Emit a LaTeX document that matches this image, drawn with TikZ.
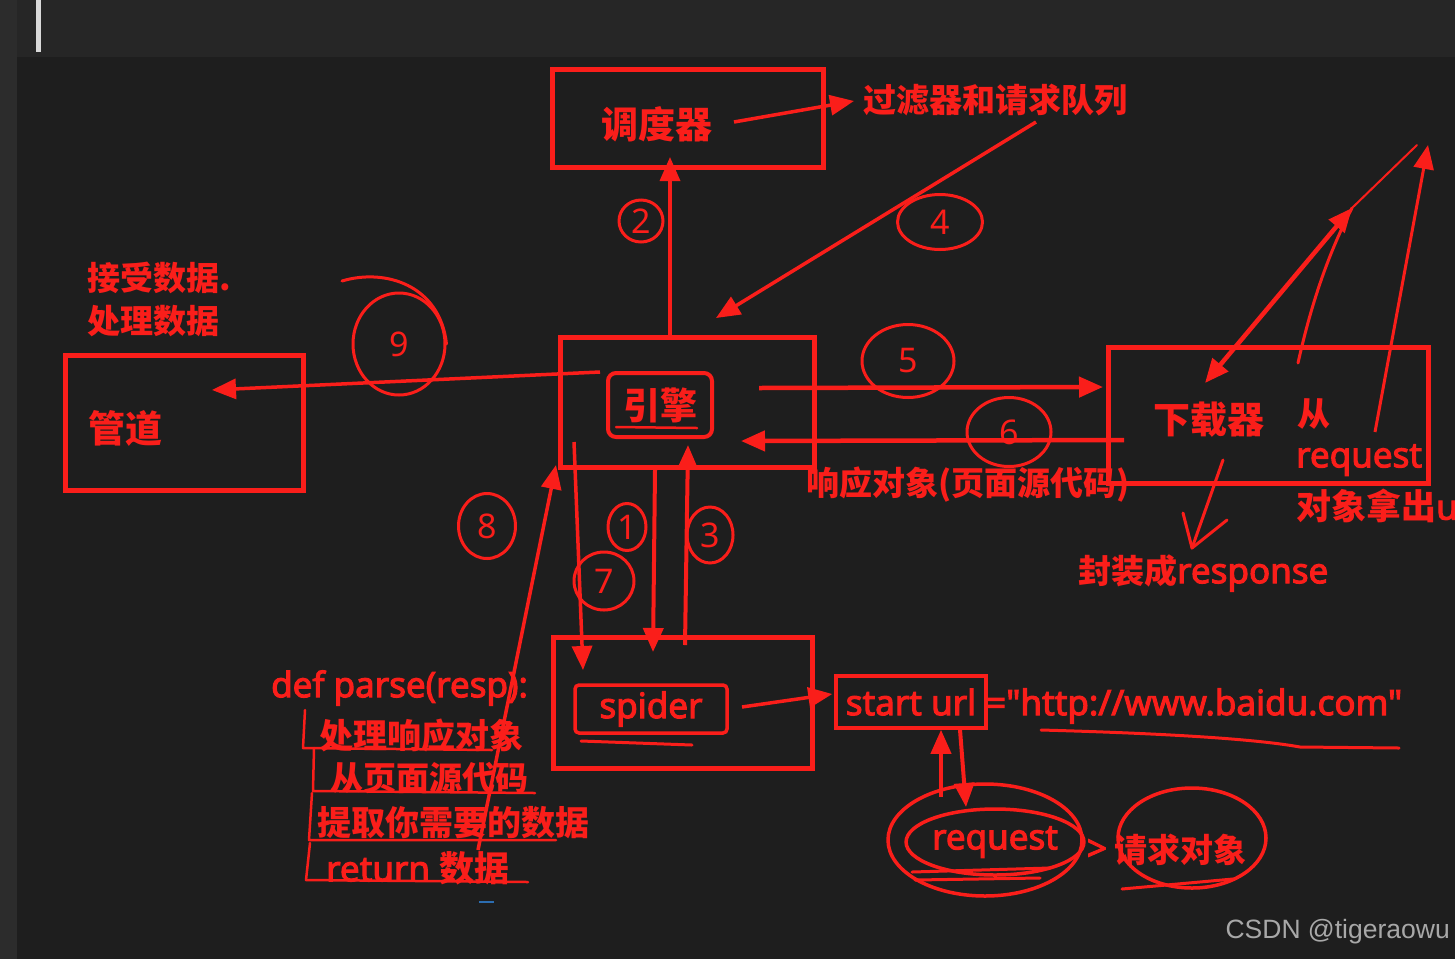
\documentclass[tikz,border=0pt]{standalone}
\usepackage{fontspec}
\setmainfont{Noto Sans}
\newfontfamily\latf{Noto Sans}[FakeBold=3,Ligatures=TeXOff]
\newfontfamily\cjk{Noto Sans CJK SC}
\newfontfamily\wmfont{Liberation Sans}
\usetikzlibrary{arrows.meta,shapes.geometric}
\definecolor{bg}{HTML}{1E1E1E}
\definecolor{topbar}{HTML}{262626}
\definecolor{sidebar}{HTML}{2C2C2C}
\definecolor{pen}{HTML}{FA1E1A}
\definecolor{wm}{HTML}{A8A8A8}
\definecolor{bluemark}{HTML}{2C6DB0}
\begin{document}
\begin{tikzpicture}[x=1pt,y=-1pt,
  box/.style={draw=pen,line width=5pt,rectangle,inner sep=0pt},
  arr/.style={draw=pen,line width=4.5pt,-{Triangle[length=24pt,width=20pt]}},
  darr/.style={draw=pen,line width=4.5pt,{Triangle[length=24pt,width=20pt]}-{Triangle[length=24pt,width=20pt]}},
  ln/.style={draw=pen,line width=2.5pt,line cap=round,line join=round},
  ring/.style={draw=pen,line width=3pt,ellipse,inner sep=0pt,text=pen,font=\fontsize{34}{34}\selectfont},
  cn/.style={text=pen,inner sep=0pt,font=\cjk\bfseries\fontsize{37}{40}\selectfont},
  cns/.style={text=pen,inner sep=0pt,font=\cjk\bfseries\fontsize{33}{38}\selectfont},
  lt/.style={text=pen,inner sep=0pt,font=\latf\fontsize{35}{40}\selectfont},
]
\useasboundingbox (0,0) rectangle (1455,959);
% background
\fill[bg] (0,0) rectangle (1455,959);
\fill[topbar] (0,0) rectangle (1455,57);
\fill[sidebar] (0,0) rectangle (17,959);
\fill[white!85!black] (36,0) rectangle (41,52);

% ---------- scheduler ----------
\node[box,minimum width=271pt,minimum height=98pt] (sched) at (687.5,118.5) {};
\node[cn] (schedt) at (657,124) {调度器};
\node[cns,anchor=west] (filt) at (863,100) {过滤器和请求队列};
\coordinate (s1) at (734,122);
\draw[arr,line width=3.5pt] (s1) -- ([xshift=-9pt,yshift=-1pt]filt.west);

% ---------- engine ----------
\node[box,minimum width=254pt,minimum height=130pt] (eng) at (687.5,402) {};
\node[cn,draw=pen,line width=4pt,rounded corners=8pt,minimum width=104pt,minimum height=64pt] (engt) at (660,405) {引擎};
\draw[ln] (616,427) -- (697,428);

% ---------- pipeline ----------
\node[box,minimum width=238pt,minimum height=135pt] (pipe) at (184,422.5) {};
\node[cn,anchor=west] (pipet) at (88,428) {管道};
\node[cns,anchor=west] (recv) at (87,278) {接受数据.};
\node[cns,anchor=west] (proc) at (87,321) {处理数据};

% ---------- downloader ----------
\node[box,minimum width=320pt,minimum height=136pt] (dl) at (1268,415) {};
\node[cn] (dlt) at (1209,420) {下载器};
\node[cns,anchor=west] (from) at (1297,414) {从};
\node[lt,anchor=west] (req1) at (1296,460) {request};
\node[lt,anchor=west] (req2) at (1296,506) {{\cjk\bfseries 对象拿出}u};
\node[cns,anchor=west] (resp) at (806,485) {响应对象(页面源代码)};
\node[cns,anchor=west] (wrap) at (1078,573) {封装成{\latf\fontsize{35}{40}\selectfont response}};

% ---------- spider ----------
\node[box,minimum width=259pt,minimum height=131pt] (sp) at (682.5,702.5) {};
\node[lt,draw=pen,line width=3.5pt,rounded corners=4pt,minimum width=152pt,minimum height=48pt] (spt) at (651,709) {spider};
\draw[ln,line width=3pt] (581,741) -- (692,745);

% ---------- start url ----------
\node[lt,draw=pen,line width=3.5pt,minimum width=150pt,minimum height=52pt] (su) at (911,702) {start url};
\node[lt,anchor=west] (url) at (986,706) {=\char34 http://www.baidu.com\char34};
\draw[ln,line width=3pt] (1041,730) .. controls (1150,733) and (1250,738) .. (1300,747) -- (1399,748);

% ---------- request ----------
\node[lt,ellipse,draw=pen,line width=3.5pt,minimum width=168pt,minimum height=66pt,inner sep=0pt] (req) at (995,842) {request};
\draw[ln,line width=3.5pt] (985,840) ellipse (97 and 56);
\draw[ln,line width=3pt] (912,872) -- (1050,868);
\draw[ln,line width=3pt] (915,880) -- (1040,878);
\node[lt] (gt) at (1097,850) {>};
\node[cns] (reqobj) at (1180,850) {请求对象};
\draw[ln,line width=3.5pt] (1192,838) ellipse (74 and 50);
\draw[ln,line width=3pt] (1122,889) -- (1233,879);

% ---------- parse code ----------
\node[lt,anchor=west] (def) at (271,688) {def parse(resp):};
\node[cns,font=\cjk\bfseries\fontsize{34}{38}\selectfont,anchor=west] (c1) at (319,735) {处理响应对象};
\node[cns,anchor=west] (c2) at (330,778) {从页面源代码};
\node[cns,font=\cjk\bfseries\fontsize{34}{38}\selectfont,anchor=west] (c3) at (317,823) {提取你需要的数据};
\node[lt,anchor=west] (c4) at (326,868) {return {\cjk\bfseries 数据}};
\draw[ln] (305,710) -- (303,748) -- (492,750);
\draw[ln] (314,748) -- (313,791) -- (535,793);
\draw[ln] (312,793) -- (309,840) -- (556,840);
\draw[ln] (310,843) -- (306,880) -- (528,882);
\draw[bluemark,line width=2pt] (479,902) -- (494,902);

% ---------- numbered rings ----------
\node[ring,minimum width=44pt,minimum height=42pt] (n2) at (641,221) {2};
\node[ring,minimum width=85pt,minimum height=55pt] (n4) at (940,222) {4};
\node[ring,minimum width=92pt,minimum height=102pt] (n9) at (399,344) {9};
\draw[ln,line width=3pt] (342,281) .. controls (385,268) and (440,285) .. (n9.east);
\node[ring,minimum width=92pt,minimum height=73pt] (n5) at (908,361) {5};
\node[ring,minimum width=84pt,minimum height=69pt] (n6) at (1009,432) {6};
\node[ring,minimum width=38pt,minimum height=47pt] (n1) at (627,527) {1};
\node[ring,minimum width=46pt,minimum height=56pt] (n3) at (710,535) {3};
\node[ring,minimum width=60pt,minimum height=58pt] (n7) at (604,581) {7};
\node[ring,minimum width=57pt,minimum height=65pt] (n8) at (487,526) {8};

% ---------- connectors ----------
\coordinate (e2) at (670,336);
\coordinate (t2) at (670,157);
\draw[arr,line width=3.5pt] (e2) -- (t2);
\coordinate (f4) at (1036,122);
\coordinate (t4) at (716,318);
\draw[arr,line width=3.5pt] (f4) -- (t4);
\coordinate (e9) at (600,372);
\coordinate (t9) at (212,390);
\draw[arr,line width=3.5pt] (e9) -- (t9);
\coordinate (e5) at (759,388);
\coordinate (t5) at (1103,387);
\draw[arr] (e5) -- (t5);
\coordinate (d6) at (1124,440);
\coordinate (t6) at (741,441);
\draw[arr] (d6) -- (t6);
\coordinate (e1) at (655,470);
\coordinate (t1) at (653,652);
\draw[arr,line width=4pt] (e1) -- (t1);
\coordinate (s3) at (685,645);
\coordinate (t3) at (688,445);
\draw[arr,line width=4pt] (s3) -- (t3);
\coordinate (e7) at (574,442);
\coordinate (t7) at (583,670);
\draw[arr,line width=3.5pt] (e7) -- (t7);
\coordinate (s8) at (478,850);
\coordinate (t8) at (556,465);
\draw[arr,line width=3.5pt] (s8) -- (t8);
\coordinate (sp1) at (742,707);
\draw[arr,line width=3.5pt] (sp1) -- ([xshift=-2pt,yshift=8pt]su.west);
\coordinate (rq1) at (941,797);
\draw[arr,line width=4pt] (rq1) -- ([xshift=30pt]su.south);
\coordinate (rq2) at (966,807);
\draw[arr,line width=4pt] ([xshift=49pt]su.south) -- (rq2);

% ---------- downloader arrows ----------
\coordinate (dA) at (1205,383);
\coordinate (dB) at (1352,208);
\coordinate (dC) at (1298,363);
\coordinate (dD) at (1417,145);
\coordinate (dE) at (1375,432);
\coordinate (dF) at (1428,145);
\draw[darr] (dA) -- (dB);
\draw[ln,line width=3pt] (dC) .. controls (1312,300) and (1330,250) .. (dB);
\draw[ln,line width=2pt] (dB) -- (dD);
\draw[arr,line width=3pt] (dE) -- (dF);
\coordinate (v1) at (1223,460);
\coordinate (v2) at (1192,548);
\draw[ln,line width=3pt] (v1) -- (v2);
\draw[ln,line width=3pt] (1183,513) -- (v2) -- (1227,520);

% ---------- watermark ----------
\node[text=wm,font=\wmfont\fontsize{26.5}{30}\selectfont,anchor=east,inner sep=0pt] (wmk) at (1450,932) {CSDN @tigeraowu};
\end{tikzpicture}
\end{document}
